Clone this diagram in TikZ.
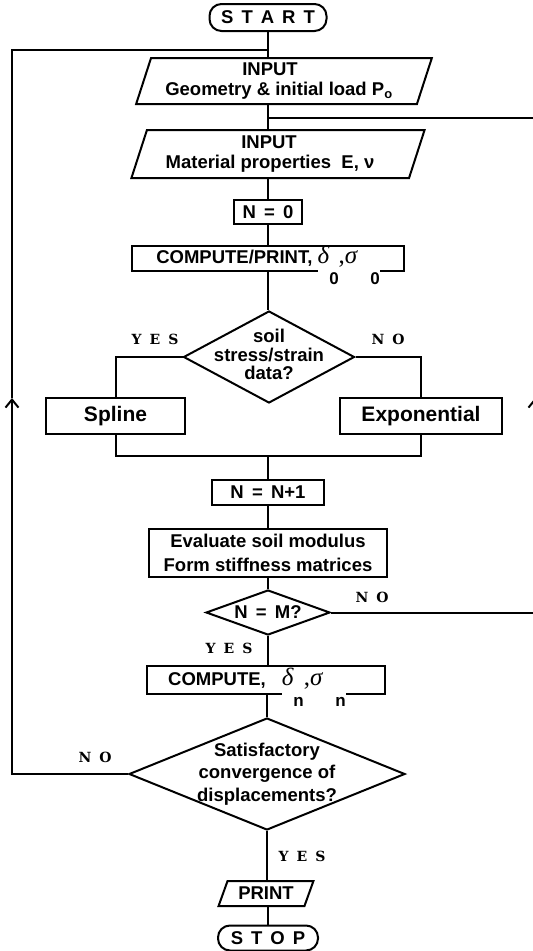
\documentclass[tikz,border=0pt]{standalone}
\usepackage{fontspec}
\setmainfont{Liberation Sans}
\newfontfamily\ynfont{DejaVu Serif}
\newfontfamily\greekfont{Liberation Serif}
\usetikzlibrary{arrows.meta,shapes.geometric}
\newcommand{\wordgap}{\spaceskip 8pt\relax}
\newcommand{\lowsub}[1]{\lower21pt\hbox{\normalfont\bfseries\fontsize{17}{17}\selectfont#1}}
\newsavebox{\dsigbox}
\newcommand{\dsig}[1]{\sbox{\dsigbox}{\greekfont\mdseries\itshape\fontsize{25}{25}\selectfont δ\lowsub{#1}\upshape,\itshape σ\hspace{13pt}\lowsub{#1}}%
  \smash{\rlap{\color{white}\rule[-24pt]{\wd\dsigbox}{21pt}}\usebox{\dsigbox}}}
\tikzset{
  term/.style={draw,line width=2pt,rounded corners=12pt,inner sep=0pt,
    minimum width=117pt,minimum height=27pt,
    font=\bfseries\fontsize{18.5}{20}\selectfont\wordgap},
  io/.style={draw,line width=2pt,trapezium,trapezium left angle=70,
    trapezium right angle=110,trapezium stretches=true,inner sep=0pt,
    align=center,font=\bfseries\fontsize{18.5}{20}\selectfont},
  proc/.style={draw,line width=2pt,inner sep=0pt,align=center,
    font=\bfseries\fontsize{18.5}{24}\selectfont},
  decide/.style={draw,line width=2pt,diamond,inner sep=0pt,
    font=\bfseries\fontsize{18.5}{22.5}\selectfont},
  yn/.style={inner sep=0pt,
    font=\ynfont\bfseries\fontsize{14}{14}\selectfont\wordgap},
  line/.style={line width=2pt},
  uparrow/.style={line width=2pt,-{Straight Barb[length=8pt,width=13pt]}}
}
\begin{document}
\begin{tikzpicture}[x=1pt,y=-1pt]
\useasboundingbox (0,0) rectangle (533,951);
% main column
\node[term] (start) at (268,17.5) {S T A R T};
\node[io,minimum width=296pt,minimum height=46pt] (in1) at (284,81)
  {INPUT\hspace*{28pt}\\Geometry \& initial load P\textsubscript{o}\hspace*{10pt}};
\node[io,minimum width=294pt,minimum height=48pt] (in2) at (278,154)
  {INPUT\hspace*{18pt}\\Material properties \ E, ν\hspace*{16pt}};
\node[proc,minimum width=68pt,minimum height=24pt] (n0) at (268,212) {N \,=\, 0};
\node[proc,minimum width=272pt,minimum height=25pt] (cp) at (268,258.5)
  {COMPUTE/PRINT, \dsig{0}};
\node[decide,minimum width=171pt,minimum height=92pt,
  font=\bfseries\fontsize{18.5}{16.5}\selectfont] (d1) at (269,357)
  {\makebox[0pt]{\begin{tabular}{@{}c@{}}soil\\stress/strain\\data?\end{tabular}}};
\node[proc,minimum width=139pt,minimum height=36pt,
  font=\bfseries\fontsize{21}{23}\selectfont] (spl) at (115.5,416) {Spline};
\node[proc,minimum width=162pt,minimum height=36pt,
  font=\bfseries\fontsize{21}{23}\selectfont] (expo) at (421,416) {Exponential};
\coordinate (mrg) at (268,456);
\node[proc,minimum width=112pt,minimum height=25pt] (nn) at (268,492.5) {N \,=\, N+1};
\node[proc,minimum width=238pt,minimum height=48pt] (ev) at (268,553)
  {Evaluate soil modulus\\Form stiffness matrices};
\node[decide,minimum width=124pt,minimum height=45pt] (nm) at (268,612.5)
  {\makebox[0pt]{N \,=\, M?}};
\node[proc,minimum width=238pt,minimum height=28pt] (cn) at (266,680)
  {COMPUTE,\hspace{16pt}\dsig{n}\hspace{18pt}};
\node[decide,minimum width=276pt,minimum height=112pt] (d2) at (267,774)
  {\makebox[0pt]{\begin{tabular}{@{}c@{}}Satisfactory\\convergence of\\displacements?\end{tabular}}};
\node[io,minimum width=95pt,minimum height=25pt,trapezium left angle=63,
  trapezium right angle=117] (pr) at (266,893.5) {PRINT};
\node[term,minimum width=100pt,minimum height=25pt] (stop) at (268,938) {S T O P};
% yes / no
\node[yn] (yes1) at (155,339) {Y E S};
\node[yn] (no1) at (388,339) {N O};
\node[yn] (no2) at (372,597) {N O};
\node[yn] (yes2) at (229,648) {Y E S};
\node[yn] (no3) at (95,757) {N O};
\node[yn] (yes3) at (302,856) {Y E S};
% loops
\coordinate (ltop) at (268,49.5);
\coordinate (rtop) at (268,118);
\coordinate (larr) at (12,398);
\coordinate (rarr) at (535,398);
% connectors
\draw[line] (start.south) -- (start.south |- in1.north);
\draw[line] (in1.south -| start) -- (in2.north -| start);
\draw[line] (in2.south -| start) -- (n0.north);
\draw[line] (n0) -- (cp);
\draw[line] (cp.south) -- (cp.south |- d1.north);
\draw[line] (d1.west) -| (spl.north);
\draw[line] (d1.east) -| (expo.north);
\draw[line] (spl.south) |- (mrg) -| (expo.south);
\draw[line] (mrg) -- (nn);
\draw[line] (nn) -- (ev);
\draw[line] (ev) -- (nm);
\draw[line] (nm) -- (cn.north -| nm);
\draw[line] (cn.south -| d2) -- (d2);
\draw[line] (d2) -- (pr.north -| d2);
\draw[line] (pr.south -| stop) -- (stop);
\draw[uparrow] (nm.east) -| (rarr);
\draw[line] (rarr) |- (rtop);
\draw[uparrow] (d2.west) -| (larr);
\draw[line] (larr) |- (ltop);
\end{tikzpicture}
\end{document}
